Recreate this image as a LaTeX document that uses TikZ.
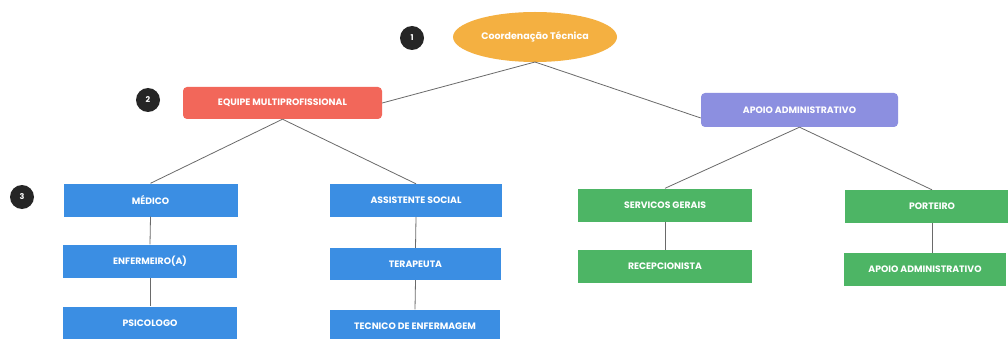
\documentclass[tikz,border=0pt]{standalone}
\usepackage{fontspec}
\setmainfont{Poppins}
\usetikzlibrary{shapes.geometric}
\definecolor{corange}{HTML}{F4B041}
\definecolor{cred}{HTML}{F2675A}
\definecolor{cpurple}{HTML}{8C8FE0}
\definecolor{cblue}{HTML}{3B8EE3}
\definecolor{cgreen}{HTML}{4DB565}
\definecolor{cdark}{HTML}{262626}
\definecolor{cline}{HTML}{6A6A6A}
\tikzset{
  box/.style={draw=none, text=white, font=\fontsize{9.3}{10}\selectfont\bfseries, inner sep=0pt, align=center},
  bluebox/.style={box, fill=cblue, minimum width=174pt, minimum height=33pt},
  greenbox/.style={box, fill=cgreen, minimum width=174pt, minimum height=33pt},
  numdot/.style={circle, fill=cdark, text=white, minimum size=24pt, inner sep=0pt, font=\fontsize{8}{9}\selectfont\bfseries},
  link/.style={draw=cline, line width=0.8pt}
}
\begin{document}
\begin{tikzpicture}[x=1pt,y=-1pt]
\useasboundingbox (0,0) rectangle (1008,339);
\fill[white] (0,0) rectangle (1008,339);
\begin{scope}
\clip (0,0) rectangle (1008,339);
% top
\node[ellipse, fill=corange, minimum width=164pt, minimum height=50pt, text=white, font=\fontsize{9.5}{10}\selectfont\bfseries] (coord) at (535,37) {Coordenação Técnica};
\node[numdot] (n1) at (412,38) {1};
\node[box, fill=cred, rounded corners=4pt, minimum width=199pt, minimum height=32pt] (equipe) at (282.5,103) {EQUIPE MULTIPROFISSIONAL};
\node[numdot] (n2) at (148,100) {2};
\node[box, fill=cpurple, rounded corners=4pt, minimum width=197pt, minimum height=34pt] (apoio) at (799.5,110) {APOIO ADMINISTRATIVO};
\node[numdot] (n3) at (22,197) {3};
% blue column 1
\node[bluebox] (medico) at (150.5,200) {MÉDICO};
\node[bluebox] (enf) at (150,261) {ENFERMEIRO(A)};
\node[bluebox] (psi) at (150,323) {PSICOLOGO};
% blue column 2
\node[bluebox, minimum width=172pt] (assist) at (416,200.5) {ASSISTENTE SOCIAL};
\node[bluebox, minimum width=171pt, minimum height=32pt] (terap) at (415.5,264) {TERAPEUTA};
\node[bluebox, minimum width=170pt] (tecnico) at (415,326) {TECNICO DE ENFERMAGEM};
% green
\node[greenbox] (serv) at (665,205) {SERVICOS GERAIS};
\node[greenbox] (recep) at (665,266.5) {RECEPCIONISTA};
\node[greenbox] (port) at (932,206.5) {PORTEIRO};
\node[greenbox, minimum width=162pt] (apoio2) at (925,269.5) {APOIO ADMINISTRATIVO};
% connectors
\coordinate (cb) at (535,62);
\draw[link] (cb) -- (equipe.east);
\draw[link] (cb) -- ([yshift=-8pt]apoio.west);
\draw[link] (equipe.south) -- (medico.north);
\draw[link] (equipe.south) -- (assist.north);
\draw[link] (apoio.south) -- (serv.north);
\draw[link] (apoio.south) -- (port.north);
\draw[link] (medico.south) -- (enf.north);
\draw[link] (enf.south) -- (psi.north);
\draw[link] (assist.south) -- (terap.north);
\draw[link] (terap.south) -- (tecnico.north);
\draw[link] (serv.south) -- (recep.north);
\draw[link] (port.south) -- (port.south |- apoio2.north);
\end{scope}
\end{tikzpicture}
\end{document}
